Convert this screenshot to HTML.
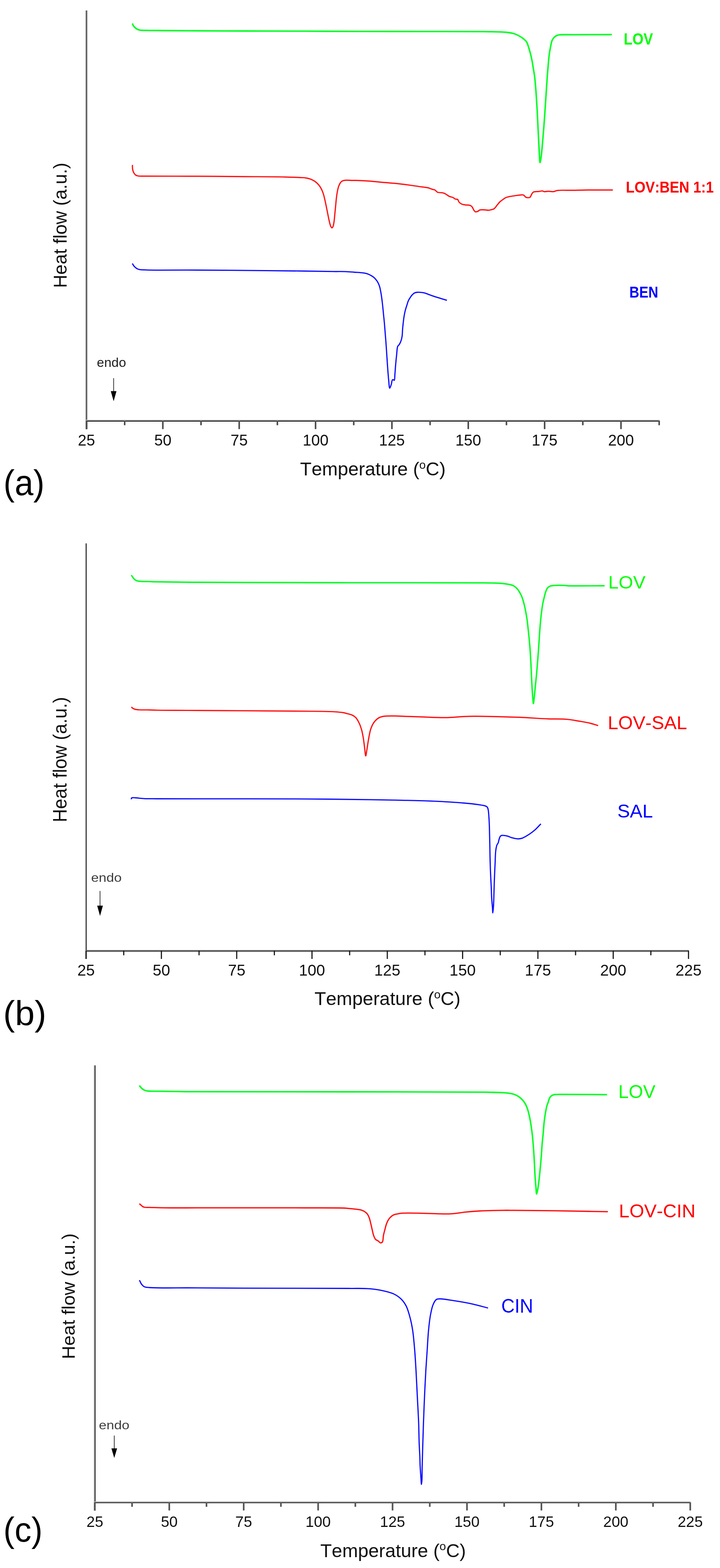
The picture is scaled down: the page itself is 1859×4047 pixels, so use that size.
<!DOCTYPE html>
<html><head><meta charset="utf-8"><title>DSC thermograms</title>
<style>
html,body{margin:0;padding:0;background:#fff;}
body{width:1859px;height:4047px;overflow:hidden;}
svg{display:block;}
text{font-family:"Liberation Sans", Arial, Helvetica, sans-serif;font-kerning:none;font-feature-settings:"kern" 0;}
</style></head>
<body>
<svg width="1859" height="4047" viewBox="0 0 1859 4047" font-family="Liberation Sans, Arial, Helvetica, sans-serif">
<rect width="1859" height="4047" fill="#fff"/>
<rect x="221.5" y="27" width="2.5" height="1081" fill="#3c3c3c"/>
<rect x="224.0" y="27" width="2.6" height="1081" fill="#b8b8b8"/>
<rect x="222.3" y="1083.2" width="1480.625" height="2.5" fill="#c4c4c4"/>
<rect x="222.3" y="1085.7" width="1480.625" height="2.3" fill="#000"/>
<rect x="221.30" y="1086" width="4.0" height="21.5" fill="#4a4a4a"/>
<rect x="319.88" y="1086" width="4.0" height="11.5" fill="#4a4a4a"/>
<rect x="418.45" y="1086" width="4.0" height="21.5" fill="#4a4a4a"/>
<rect x="517.03" y="1086" width="4.0" height="11.5" fill="#4a4a4a"/>
<rect x="615.60" y="1086" width="4.0" height="21.5" fill="#4a4a4a"/>
<rect x="714.18" y="1086" width="4.0" height="11.5" fill="#4a4a4a"/>
<rect x="812.75" y="1086" width="4.0" height="21.5" fill="#4a4a4a"/>
<rect x="911.33" y="1086" width="4.0" height="11.5" fill="#4a4a4a"/>
<rect x="1009.90" y="1086" width="4.0" height="21.5" fill="#4a4a4a"/>
<rect x="1108.48" y="1086" width="4.0" height="11.5" fill="#4a4a4a"/>
<rect x="1207.05" y="1086" width="4.0" height="21.5" fill="#4a4a4a"/>
<rect x="1305.62" y="1086" width="4.0" height="11.5" fill="#4a4a4a"/>
<rect x="1404.20" y="1086" width="4.0" height="21.5" fill="#4a4a4a"/>
<rect x="1502.78" y="1086" width="4.0" height="11.5" fill="#4a4a4a"/>
<rect x="1601.35" y="1086" width="4.0" height="21.5" fill="#4a4a4a"/>
<rect x="1699.92" y="1086" width="4.0" height="11.5" fill="#4a4a4a"/>
<text x="223.3" y="1150" font-size="40" fill="#111" text-anchor="middle" font-weight="normal" >25</text>
<text x="420.5" y="1150" font-size="40" fill="#111" text-anchor="middle" font-weight="normal" >50</text>
<text x="617.6" y="1150" font-size="40" fill="#111" text-anchor="middle" font-weight="normal" >75</text>
<text x="814.8" y="1150" font-size="40" fill="#111" text-anchor="middle" font-weight="normal" >100</text>
<text x="1011.9" y="1150" font-size="40" fill="#111" text-anchor="middle" font-weight="normal" >125</text>
<text x="1209.0" y="1150" font-size="40" fill="#111" text-anchor="middle" font-weight="normal" >150</text>
<text x="1406.2" y="1150" font-size="40" fill="#111" text-anchor="middle" font-weight="normal" >175</text>
<text x="1603.3" y="1150" font-size="40" fill="#111" text-anchor="middle" font-weight="normal" >200</text>
<rect x="221.5" y="1402.5" width="2.4" height="1072.5" fill="#1e1e1e"/>
<rect x="219.1" y="1402.5" width="2.1" height="1072.5" fill="#cccccc"/>
<rect x="221.3" y="2452.1" width="1557.4" height="4.7" fill="#606060"/>
<rect x="220.85" y="2454" width="2.9" height="21" fill="#151515"/>
<rect x="318.06" y="2454" width="2.9" height="11.599999999999909" fill="#151515"/>
<rect x="415.28" y="2454" width="2.9" height="21" fill="#151515"/>
<rect x="512.49" y="2454" width="2.9" height="11.599999999999909" fill="#151515"/>
<rect x="609.70" y="2454" width="2.9" height="21" fill="#151515"/>
<rect x="706.91" y="2454" width="2.9" height="11.599999999999909" fill="#151515"/>
<rect x="804.12" y="2454" width="2.9" height="21" fill="#151515"/>
<rect x="901.34" y="2454" width="2.9" height="11.599999999999909" fill="#151515"/>
<rect x="998.55" y="2454" width="2.9" height="21" fill="#151515"/>
<rect x="1095.76" y="2454" width="2.9" height="11.599999999999909" fill="#151515"/>
<rect x="1192.97" y="2454" width="2.9" height="21" fill="#151515"/>
<rect x="1290.19" y="2454" width="2.9" height="11.599999999999909" fill="#151515"/>
<rect x="1387.40" y="2454" width="2.9" height="21" fill="#151515"/>
<rect x="1484.61" y="2454" width="2.9" height="11.599999999999909" fill="#151515"/>
<rect x="1581.83" y="2454" width="2.9" height="21" fill="#151515"/>
<rect x="1679.04" y="2454" width="2.9" height="11.599999999999909" fill="#151515"/>
<rect x="1776.25" y="2454" width="2.9" height="21" fill="#151515"/>
<text x="222.3" y="2517.6" font-size="40.5" fill="#111" text-anchor="middle" font-weight="normal" >25</text>
<text x="416.7" y="2517.6" font-size="40.5" fill="#111" text-anchor="middle" font-weight="normal" >50</text>
<text x="611.2" y="2517.6" font-size="40.5" fill="#111" text-anchor="middle" font-weight="normal" >75</text>
<text x="805.6" y="2517.6" font-size="40.5" fill="#111" text-anchor="middle" font-weight="normal" >100</text>
<text x="1000.0" y="2517.6" font-size="40.5" fill="#111" text-anchor="middle" font-weight="normal" >125</text>
<text x="1194.4" y="2517.6" font-size="40.5" fill="#111" text-anchor="middle" font-weight="normal" >150</text>
<text x="1388.9" y="2517.6" font-size="40.5" fill="#111" text-anchor="middle" font-weight="normal" >175</text>
<text x="1583.3" y="2517.6" font-size="40.5" fill="#111" text-anchor="middle" font-weight="normal" >200</text>
<text x="1777.7" y="2517.6" font-size="40.5" fill="#111" text-anchor="middle" font-weight="normal" >225</text>
<rect x="244.2" y="2749.7" width="2.7" height="1149.3000000000002" fill="#333333"/>
<rect x="242.0" y="2749.7" width="2.1" height="1149.3000000000002" fill="#b5b5b5"/>
<rect x="243.9" y="3875.1" width="1539.3" height="2.1" fill="#b5b5b5"/>
<rect x="243.9" y="3877.3" width="1539.3" height="2.4" fill="#2a2a2a"/>
<rect x="242.80" y="3878" width="4.2" height="20.5" fill="#555"/>
<rect x="338.88" y="3878" width="4.2" height="11" fill="#555"/>
<rect x="434.96" y="3878" width="4.2" height="20.5" fill="#555"/>
<rect x="531.04" y="3878" width="4.2" height="11" fill="#555"/>
<rect x="627.12" y="3878" width="4.2" height="20.5" fill="#555"/>
<rect x="723.21" y="3878" width="4.2" height="11" fill="#555"/>
<rect x="819.29" y="3878" width="4.2" height="20.5" fill="#555"/>
<rect x="915.37" y="3878" width="4.2" height="11" fill="#555"/>
<rect x="1011.45" y="3878" width="4.2" height="20.5" fill="#555"/>
<rect x="1107.53" y="3878" width="4.2" height="11" fill="#555"/>
<rect x="1203.61" y="3878" width="4.2" height="20.5" fill="#555"/>
<rect x="1299.69" y="3878" width="4.2" height="11" fill="#555"/>
<rect x="1395.78" y="3878" width="4.2" height="20.5" fill="#555"/>
<rect x="1491.86" y="3878" width="4.2" height="11" fill="#555"/>
<rect x="1587.94" y="3878" width="4.2" height="20.5" fill="#555"/>
<rect x="1684.02" y="3878" width="4.2" height="11" fill="#555"/>
<rect x="1780.10" y="3878" width="4.2" height="20.5" fill="#555"/>
<text x="244.9" y="3941.4" font-size="39" fill="#111" text-anchor="middle" font-weight="normal" >25</text>
<text x="437.1" y="3941.4" font-size="39" fill="#111" text-anchor="middle" font-weight="normal" >50</text>
<text x="629.2" y="3941.4" font-size="39" fill="#111" text-anchor="middle" font-weight="normal" >75</text>
<text x="821.4" y="3941.4" font-size="39" fill="#111" text-anchor="middle" font-weight="normal" >100</text>
<text x="1013.5" y="3941.4" font-size="39" fill="#111" text-anchor="middle" font-weight="normal" >125</text>
<text x="1205.7" y="3941.4" font-size="39" fill="#111" text-anchor="middle" font-weight="normal" >150</text>
<text x="1397.9" y="3941.4" font-size="39" fill="#111" text-anchor="middle" font-weight="normal" >175</text>
<text x="1590.0" y="3941.4" font-size="39" fill="#111" text-anchor="middle" font-weight="normal" >200</text>
<text x="1782.2" y="3941.4" font-size="39" fill="#111" text-anchor="middle" font-weight="normal" >225</text>
<path d="M341.80,60.50 C342.60,62.40 343.13,64.46 344.20,66.20 C345.29,67.96 346.75,69.55 348.30,71.00 C349.90,72.49 351.73,73.90 353.70,75.00 C355.75,76.15 357.59,77.10 360.40,77.70 C364.69,78.63 370.74,78.23 377.30,78.40 C386.42,78.63 396.97,78.58 410.00,78.70 C429.36,78.88 453.70,79.21 482.20,79.40 C523.56,79.68 583.59,79.83 634.30,80.00 C685.02,80.17 736.51,80.21 786.50,80.40 C835.04,80.58 880.14,80.93 930.00,81.10 C984.27,81.28 1045.11,81.31 1100.00,81.40 C1151.56,81.48 1214.95,81.22 1250.00,81.60 C1268.92,81.81 1282.53,81.99 1293.70,82.50 C1300.65,82.82 1304.99,82.96 1310.60,83.70 C1316.26,84.45 1322.45,85.43 1327.50,87.00 C1331.87,88.35 1335.54,90.11 1339.30,92.10 C1343.04,94.08 1346.69,96.36 1350.00,98.90 C1353.25,101.40 1356.63,103.78 1359.00,107.20 C1361.59,110.95 1362.85,116.02 1364.50,120.80 C1366.28,125.94 1367.75,131.54 1369.20,137.10 C1370.69,142.84 1372.08,148.60 1373.30,154.70 C1374.60,161.23 1375.57,168.30 1376.70,175.10 C1377.83,181.90 1379.13,188.19 1380.10,195.50 C1381.22,203.90 1382.02,213.64 1382.80,222.70 C1383.58,231.74 1384.15,240.25 1384.80,249.80 C1385.52,260.49 1386.24,271.95 1386.90,283.80 C1387.62,296.78 1388.23,311.01 1388.90,324.60 C1389.57,338.18 1390.24,352.34 1390.90,365.30 C1391.50,377.14 1392.05,389.41 1392.70,399.30 C1393.20,406.97 1393.44,419.65 1394.30,419.70 C1395.01,419.74 1396.25,411.68 1397.10,406.10 C1398.44,397.34 1399.41,383.95 1400.50,372.10 C1401.69,359.15 1402.81,345.50 1403.90,331.40 C1405.08,316.16 1406.25,299.06 1407.30,283.80 C1408.27,269.68 1409.10,256.59 1410.00,243.00 C1410.90,229.42 1411.76,215.25 1412.70,202.30 C1413.56,190.45 1414.44,179.00 1415.40,168.30 C1416.26,158.72 1416.98,149.49 1418.10,141.10 C1419.07,133.82 1420.23,127.12 1421.50,120.80 C1422.63,115.18 1423.69,108.85 1425.20,105.00 C1426.15,102.57 1427.16,101.09 1428.40,99.40 C1429.60,97.77 1430.95,96.29 1432.50,95.00 C1434.10,93.68 1435.98,92.45 1437.90,91.60 C1439.81,90.75 1441.08,90.31 1444.00,89.90 C1450.96,88.92 1465.01,89.69 1480.00,89.60 C1504.95,89.45 1546.47,89.33 1579.70,89.20" fill="none" stroke="#00ff22" stroke-width="3.9" stroke-linejoin="round" stroke-linecap="butt"/>
<path d="M342.00,425.80 C342.07,428.97 341.80,432.28 342.20,435.30 C342.57,438.13 343.28,441.12 344.20,443.40 C344.94,445.24 345.86,446.68 346.90,448.10 C347.90,449.47 348.83,450.82 350.30,451.80 C352.05,452.96 354.33,453.70 357.00,454.20 C360.69,454.90 363.88,454.50 370.60,454.60 C389.85,454.90 442.13,454.63 482.20,454.80 C528.98,455.00 588.72,455.43 634.30,455.80 C671.51,456.11 709.51,456.19 735.70,456.80 C752.28,457.19 766.36,457.75 776.30,458.30 C782.08,458.62 785.81,458.63 790.00,459.30 C793.65,459.88 796.78,460.65 800.10,461.80 C803.55,462.99 807.19,464.56 810.30,466.40 C813.26,468.15 815.90,470.18 818.40,472.50 C820.98,474.89 823.37,477.56 825.50,480.60 C827.81,483.90 829.90,487.92 831.60,491.70 C833.25,495.36 834.43,499.06 835.60,502.90 C836.80,506.85 837.72,510.87 838.70,515.10 C839.76,519.64 840.70,524.48 841.70,529.30 C842.73,534.28 843.78,539.43 844.80,544.50 C845.82,549.57 846.77,554.72 847.80,559.70 C848.80,564.52 849.79,569.59 850.90,573.90 C851.84,577.57 852.62,581.46 853.90,584.00 C854.80,585.77 855.98,588.11 857.00,588.10 C858.01,588.09 859.18,585.84 860.00,584.00 C861.28,581.13 861.79,576.47 862.50,571.90 C863.41,566.02 863.92,558.37 864.60,551.60 C865.28,544.83 865.93,538.07 866.60,531.30 C867.27,524.53 867.79,517.48 868.60,511.00 C869.35,505.02 870.17,499.02 871.20,493.80 C872.08,489.36 872.92,485.32 874.20,481.60 C875.34,478.29 876.61,474.98 878.30,472.50 C879.73,470.40 881.30,468.58 883.30,467.40 C885.33,466.20 887.41,465.80 890.40,465.40 C895.28,464.75 904.56,465.57 910.00,465.60 C913.89,465.62 915.68,465.49 920.00,465.60 C927.94,465.80 942.54,466.45 953.80,467.30 C965.08,468.15 976.33,469.68 987.60,470.70 C998.86,471.72 1010.14,472.27 1021.40,473.40 C1032.68,474.53 1044.56,476.07 1055.20,477.50 C1064.74,478.78 1073.57,480.23 1082.30,481.50 C1090.46,482.69 1099.82,483.34 1106.00,484.90 C1110.14,485.94 1113.04,487.66 1116.10,488.60 C1118.57,489.36 1120.77,489.19 1122.90,490.30 C1125.30,491.55 1126.74,494.83 1129.60,496.10 C1133.16,497.69 1139.49,496.87 1143.20,497.80 C1145.90,498.48 1147.58,499.18 1150.00,500.40 C1153.11,501.96 1156.62,505.17 1160.10,506.80 C1163.40,508.35 1167.56,508.75 1170.30,510.10 C1172.38,511.12 1173.52,512.80 1175.40,513.60 C1177.32,514.42 1180.06,513.67 1181.70,514.90 C1183.54,516.27 1183.70,520.01 1185.50,522.00 C1187.42,524.12 1190.46,525.96 1193.10,527.10 C1195.54,528.15 1198.00,528.42 1200.70,528.80 C1203.70,529.23 1207.62,528.93 1210.30,529.40 C1212.29,529.75 1213.89,530.05 1215.40,530.90 C1216.92,531.75 1218.19,532.92 1219.40,534.50 C1220.97,536.56 1221.96,540.45 1223.50,542.60 C1224.72,544.31 1225.86,546.18 1227.50,546.70 C1229.20,547.25 1231.73,546.37 1233.60,545.60 C1235.47,544.83 1236.50,542.83 1238.70,542.10 C1241.79,541.07 1247.03,541.49 1250.90,541.60 C1254.43,541.70 1257.83,542.73 1261.00,542.60 C1263.86,542.48 1266.61,541.74 1269.10,541.10 C1271.30,540.54 1273.47,540.16 1275.20,539.10 C1276.84,538.09 1277.92,536.58 1279.30,535.00 C1280.95,533.11 1282.44,530.68 1284.30,528.40 C1286.42,525.80 1288.81,522.69 1291.40,520.30 C1293.92,517.97 1297.18,515.95 1299.60,514.20 C1301.49,512.83 1302.61,511.62 1304.70,510.60 C1307.41,509.27 1311.21,508.33 1314.80,507.50 C1318.76,506.59 1322.64,506.15 1327.50,505.50 C1334.01,504.63 1346.08,501.96 1350.40,503.00 C1352.32,503.46 1352.98,504.51 1354.20,505.50 C1355.52,506.58 1356.23,508.57 1358.00,509.30 C1360.42,510.30 1365.57,510.77 1368.10,509.30 C1370.65,507.82 1371.52,502.81 1373.20,500.40 C1374.48,498.58 1375.05,496.96 1377.00,495.90 C1380.01,494.26 1386.62,494.65 1390.90,494.10 C1394.56,493.63 1398.57,492.40 1401.10,492.80 C1402.72,493.06 1403.24,494.30 1404.90,494.60 C1407.64,495.09 1412.40,493.62 1416.30,493.60 C1420.42,493.58 1425.08,495.03 1429.00,494.60 C1432.52,494.21 1434.39,492.28 1438.80,491.60 C1447.39,490.27 1464.67,491.40 1477.60,491.20 C1490.53,491.00 1501.76,490.55 1516.40,490.40 C1535.49,490.20 1560.40,490.40 1582.40,490.40" fill="none" stroke="#ff1010" stroke-width="3.2" stroke-linejoin="round" stroke-linecap="butt"/>
<path d="M341.80,680.10 C342.37,681.13 342.79,682.08 343.50,683.20 C344.40,684.63 345.69,686.55 346.90,687.90 C347.97,689.10 349.13,690.08 350.30,691.00 C351.40,691.87 352.32,692.60 353.70,693.30 C355.51,694.22 357.61,695.13 360.40,695.70 C364.71,696.58 370.74,696.46 377.30,696.70 C386.41,697.04 396.97,697.12 410.00,697.20 C429.36,697.32 453.70,696.95 482.20,697.00 C523.56,697.08 583.59,697.57 634.30,698.00 C685.03,698.43 744.90,699.04 786.50,699.60 C815.41,699.99 840.34,700.58 860.00,700.80 C873.17,700.95 883.13,700.61 893.00,701.00 C901.05,701.32 907.59,702.05 914.90,702.60 C922.23,703.15 930.85,703.46 936.90,704.30 C941.22,704.90 944.49,705.44 947.90,706.50 C951.05,707.48 953.92,708.81 956.70,710.30 C959.42,711.76 962.13,713.46 964.40,715.30 C966.49,716.99 968.15,718.73 969.90,720.80 C971.83,723.08 973.79,725.64 975.40,728.50 C977.17,731.64 978.70,735.37 979.90,739.00 C981.12,742.70 981.77,746.35 982.60,750.50 C983.56,755.31 984.39,760.58 985.20,766.20 C986.14,772.66 986.98,779.73 987.80,787.10 C988.72,795.34 989.58,805.06 990.40,813.30 C991.13,820.66 991.84,826.84 992.50,834.20 C993.24,842.44 993.90,851.67 994.60,860.40 C995.30,869.13 996.03,877.47 996.70,886.60 C997.43,896.59 998.10,907.53 998.80,918.00 C999.50,928.47 1000.12,938.94 1000.90,949.40 C1001.68,959.87 1002.49,971.37 1003.50,980.80 C1004.33,988.57 1004.81,1001.81 1006.30,1002.00 C1007.35,1002.13 1009.17,995.49 1010.30,992.00 C1011.49,988.34 1011.71,981.94 1013.20,980.50 C1013.86,979.86 1014.75,979.85 1015.50,980.00 C1016.35,980.17 1017.35,982.00 1018.00,981.70 C1019.47,981.02 1019.07,972.10 1019.60,966.30 C1020.28,958.81 1020.83,949.09 1021.60,940.50 C1022.37,931.92 1023.28,922.89 1024.20,914.80 C1025.02,907.55 1024.93,898.61 1026.80,894.20 C1027.85,891.73 1029.63,891.09 1030.90,889.10 C1032.41,886.74 1033.86,883.91 1035.00,880.80 C1036.34,877.16 1037.35,873.16 1038.10,868.50 C1039.06,862.55 1039.04,854.26 1039.60,847.90 C1040.09,842.39 1040.60,837.64 1041.20,832.50 C1041.80,827.34 1042.35,822.14 1043.20,817.00 C1044.05,811.84 1045.05,806.53 1046.30,801.60 C1047.48,796.95 1049.01,792.56 1050.40,788.20 C1051.74,784.00 1052.92,779.39 1054.50,775.90 C1055.76,773.11 1057.20,771.03 1058.70,768.70 C1060.20,766.37 1061.66,763.96 1063.50,761.90 C1065.35,759.83 1067.43,757.55 1069.80,756.30 C1072.08,755.09 1074.52,754.68 1077.40,754.40 C1081.05,754.04 1086.65,754.59 1090.00,755.00 C1092.25,755.27 1093.09,755.42 1095.60,756.10 C1101.03,757.58 1111.87,762.03 1120.90,765.00 C1131.14,768.37 1142.90,771.73 1153.90,775.10" fill="none" stroke="#0c0cff" stroke-width="3.1" stroke-linejoin="round" stroke-linecap="butt"/>
<path d="M338.90,1484.50 C339.90,1485.83 340.88,1487.10 341.90,1488.50 C343.01,1490.02 344.10,1491.90 345.30,1493.30 C346.38,1494.56 347.40,1495.67 348.70,1496.60 C350.08,1497.59 351.53,1498.39 353.40,1499.00 C355.83,1499.79 358.54,1500.06 362.20,1500.40 C368.17,1500.95 378.43,1500.77 385.90,1501.00 C392.61,1501.21 396.21,1501.48 405.00,1501.70 C424.60,1502.18 465.62,1502.62 500.00,1502.90 C540.83,1503.23 581.75,1503.24 634.00,1503.40 C707.62,1503.62 805.17,1503.84 900.00,1504.00 C1008.99,1504.18 1195.95,1503.71 1251.40,1504.40 C1268.60,1504.61 1275.86,1504.71 1285.20,1505.20 C1291.84,1505.55 1296.56,1505.90 1302.20,1506.60 C1307.86,1507.30 1314.50,1508.10 1319.10,1509.40 C1322.45,1510.34 1324.83,1511.14 1327.50,1512.80 C1330.50,1514.67 1333.50,1517.50 1336.00,1520.40 C1338.59,1523.40 1340.75,1527.16 1342.70,1530.60 C1344.55,1533.87 1345.95,1536.52 1347.50,1540.50 C1349.67,1546.09 1351.98,1554.54 1353.70,1561.30 C1355.30,1567.61 1356.41,1573.52 1357.60,1579.80 C1358.82,1586.28 1359.89,1592.36 1360.90,1599.60 C1362.12,1608.33 1363.13,1618.62 1364.20,1628.60 C1365.34,1639.24 1366.53,1650.09 1367.50,1661.60 C1368.56,1674.19 1369.43,1688.00 1370.20,1701.20 C1370.97,1714.40 1371.45,1727.60 1372.10,1740.80 C1372.75,1754.00 1373.35,1768.54 1374.10,1780.40 C1374.71,1790.09 1375.46,1800.25 1376.10,1806.80 C1376.48,1810.70 1376.75,1816.10 1377.20,1816.10 C1377.79,1816.11 1378.69,1806.18 1379.40,1800.20 C1380.31,1792.52 1381.08,1783.09 1382.00,1773.80 C1383.03,1763.41 1384.25,1752.31 1385.30,1740.80 C1386.45,1728.21 1387.54,1714.91 1388.60,1701.20 C1389.75,1686.40 1390.87,1669.81 1391.90,1655.00 C1392.86,1641.29 1393.54,1627.99 1394.60,1615.40 C1395.57,1603.89 1396.62,1592.77 1397.90,1582.40 C1399.05,1573.10 1400.48,1562.88 1401.80,1556.00 C1402.66,1551.52 1403.41,1549.01 1404.40,1545.00 C1405.61,1540.12 1406.89,1533.65 1408.60,1528.80 C1410.07,1524.63 1411.42,1520.25 1413.70,1517.50 C1415.55,1515.26 1417.70,1513.88 1420.40,1512.80 C1423.68,1511.49 1427.58,1511.36 1432.30,1511.00 C1439.15,1510.49 1451.42,1510.71 1457.60,1511.00 C1461.19,1511.17 1461.73,1511.59 1466.10,1511.80 C1480.67,1512.49 1529.37,1511.87 1561.00,1511.90" fill="none" stroke="#00ff22" stroke-width="3.7" stroke-linejoin="round" stroke-linecap="butt"/>
<path d="M339.20,1824.80 C340.33,1825.83 341.21,1827.00 342.60,1827.90 C344.27,1828.99 346.36,1829.93 348.70,1830.60 C351.60,1831.42 354.61,1831.69 358.80,1832.00 C365.64,1832.51 377.66,1832.10 385.90,1832.30 C392.82,1832.47 396.49,1832.82 405.00,1833.00 C422.09,1833.37 452.15,1833.30 482.20,1833.50 C524.39,1833.78 583.59,1834.17 634.30,1834.50 C685.02,1834.83 744.49,1834.95 786.50,1835.50 C816.19,1835.89 843.96,1835.87 862.50,1837.00 C873.25,1837.65 881.02,1838.35 887.90,1839.60 C892.71,1840.48 896.27,1841.75 900.00,1842.80 C903.23,1843.71 906.06,1844.09 909.00,1845.50 C912.27,1847.07 915.77,1849.14 918.60,1852.10 C921.91,1855.56 924.56,1860.60 927.00,1865.60 C929.72,1871.18 931.98,1877.80 933.80,1884.20 C935.66,1890.75 936.78,1897.33 938.00,1904.50 C939.36,1912.47 940.30,1921.83 941.40,1929.90 C942.40,1937.26 943.24,1950.97 944.30,1951.00 C945.23,1951.02 946.25,1941.04 947.30,1935.00 C948.66,1927.16 949.90,1916.90 951.60,1907.90 C953.30,1898.87 954.75,1888.70 957.50,1880.90 C959.77,1874.45 962.33,1868.76 965.90,1864.00 C969.21,1859.59 973.40,1855.56 977.80,1853.00 C981.92,1850.60 985.95,1849.61 991.30,1848.70 C998.68,1847.44 1008.79,1847.87 1018.30,1847.90 C1028.96,1847.93 1040.59,1848.69 1052.20,1849.10 C1064.46,1849.53 1075.90,1849.96 1090.00,1850.40 C1107.89,1850.96 1130.61,1852.37 1150.90,1852.10 C1171.18,1851.83 1187.94,1849.21 1211.70,1848.80 C1245.29,1848.22 1296.93,1849.92 1333.40,1851.20 C1363.20,1852.25 1390.97,1854.41 1414.60,1855.30 C1432.89,1855.99 1448.75,1855.23 1463.30,1856.50 C1475.23,1857.55 1485.68,1859.74 1495.70,1861.40 C1504.42,1862.85 1512.02,1863.93 1520.10,1865.80 C1528.26,1867.69 1536.30,1870.40 1544.40,1872.70" fill="none" stroke="#ff1010" stroke-width="3.2" stroke-linejoin="round" stroke-linecap="butt"/>
<path d="M339.20,2063.00 C339.27,2061.93 338.88,2060.48 339.40,2059.80 C339.88,2059.17 340.88,2059.07 342.00,2058.90 C343.92,2058.60 346.67,2058.90 350.00,2059.10 C355.57,2059.43 364.15,2060.77 372.30,2061.20 C382.15,2061.72 389.18,2061.50 405.00,2061.60 C446.90,2061.87 564.06,2061.68 634.30,2061.80 C694.01,2061.90 745.35,2061.82 800.00,2062.20 C853.52,2062.57 915.01,2063.34 958.90,2064.00 C989.94,2064.47 1011.91,2064.87 1038.40,2065.50 C1064.88,2066.13 1091.33,2066.62 1117.80,2067.80 C1144.30,2068.98 1175.37,2070.72 1197.30,2072.60 C1212.83,2073.93 1226.95,2075.51 1237.00,2077.00 C1243.21,2077.92 1248.20,2078.49 1252.00,2079.80 C1254.53,2080.67 1256.59,2081.27 1258.00,2082.90 C1259.50,2084.63 1259.84,2087.11 1260.50,2090.10 C1261.51,2094.70 1261.82,2101.66 1262.30,2108.10 C1262.86,2115.54 1263.20,2124.17 1263.50,2132.20 C1263.80,2140.21 1263.90,2148.19 1264.10,2156.20 C1264.30,2164.22 1264.52,2171.46 1264.70,2180.30 C1264.92,2191.12 1265.00,2204.37 1265.30,2216.40 C1265.60,2228.43 1266.00,2240.47 1266.50,2252.50 C1267.00,2264.54 1267.78,2277.12 1268.30,2288.60 C1268.77,2299.06 1268.92,2309.15 1269.50,2318.60 C1270.02,2327.08 1270.96,2335.82 1271.50,2342.70 C1271.90,2347.85 1272.09,2356.20 1272.50,2356.20 C1272.99,2356.20 1273.83,2344.20 1274.30,2336.70 C1274.94,2326.51 1275.10,2312.63 1275.50,2300.60 C1275.90,2288.57 1276.23,2276.53 1276.70,2264.50 C1277.17,2252.47 1277.78,2239.89 1278.30,2228.40 C1278.78,2217.91 1278.94,2206.05 1279.70,2198.30 C1280.18,2193.38 1280.76,2189.59 1281.50,2186.30 C1282.03,2183.93 1282.47,2182.14 1283.30,2180.30 C1284.09,2178.55 1285.47,2177.45 1286.30,2175.50 C1287.40,2172.92 1287.73,2168.85 1288.70,2165.90 C1289.57,2163.27 1290.34,2160.26 1291.70,2158.60 C1292.70,2157.37 1293.72,2156.63 1295.30,2156.20 C1297.67,2155.56 1302.03,2156.34 1305.00,2156.80 C1307.60,2157.20 1309.69,2157.80 1312.20,2158.60 C1315.06,2159.51 1317.72,2161.11 1321.20,2162.10 C1325.72,2163.39 1332.31,2165.05 1337.20,2165.10 C1341.32,2165.14 1344.49,2164.64 1348.60,2163.20 C1354.12,2161.26 1361.27,2156.60 1366.80,2153.00 C1371.81,2149.73 1375.91,2146.73 1380.50,2142.70 C1385.80,2138.04 1391.17,2131.77 1396.50,2126.30" fill="none" stroke="#0c0cff" stroke-width="3.1" stroke-linejoin="round" stroke-linecap="butt"/>
<path d="M359.90,2801.50 C360.57,2802.50 361.10,2803.47 361.90,2804.50 C362.85,2805.72 364.07,2807.12 365.30,2808.30 C366.54,2809.49 367.86,2810.61 369.30,2811.60 C370.79,2812.62 372.23,2813.60 374.10,2814.30 C376.39,2815.16 378.77,2815.61 382.20,2816.00 C388.01,2816.65 397.40,2816.28 405.90,2816.40 C415.81,2816.55 425.63,2816.63 438.10,2816.80 C455.39,2817.03 470.38,2817.47 500.00,2817.70 C575.28,2818.28 770.98,2817.79 900.00,2818.00 C1020.93,2818.20 1191.06,2818.04 1251.40,2818.90 C1272.34,2819.20 1282.78,2819.50 1293.70,2820.00 C1300.61,2820.31 1304.99,2820.36 1310.60,2821.10 C1316.26,2821.85 1322.47,2822.77 1327.50,2824.50 C1331.90,2826.01 1335.60,2827.88 1339.30,2830.40 C1343.20,2833.05 1347.16,2836.69 1350.20,2840.20 C1353.00,2843.43 1355.13,2846.80 1357.10,2850.50 C1359.15,2854.35 1360.73,2858.55 1362.20,2862.90 C1363.76,2867.52 1364.92,2872.44 1366.10,2877.50 C1367.37,2882.91 1368.41,2888.18 1369.50,2894.40 C1370.83,2901.99 1372.20,2911.11 1373.30,2919.80 C1374.45,2928.89 1375.34,2938.11 1376.20,2947.80 C1377.13,2958.25 1377.93,2969.95 1378.60,2980.40 C1379.22,2990.06 1379.62,2999.00 1380.10,3008.30 C1380.58,3017.60 1380.88,3026.90 1381.50,3036.20 C1382.12,3045.53 1383.08,3055.99 1383.80,3064.20 C1384.36,3070.66 1384.49,3081.43 1385.40,3081.50 C1386.19,3081.56 1387.62,3073.89 1388.60,3068.80 C1390.03,3061.34 1391.22,3050.22 1392.30,3040.90 C1393.38,3031.58 1394.20,3022.58 1395.10,3012.90 C1396.07,3002.47 1397.10,2990.83 1397.90,2980.40 C1398.65,2970.72 1399.02,2961.72 1399.80,2952.40 C1400.58,2943.09 1401.75,2933.80 1402.60,2924.50 C1403.45,2915.20 1403.91,2905.47 1404.90,2896.60 C1405.81,2888.47 1406.96,2880.61 1408.20,2873.30 C1409.32,2866.73 1410.54,2859.57 1411.90,2854.70 C1412.81,2851.44 1413.90,2849.38 1414.80,2846.70 C1415.70,2844.04 1416.47,2841.11 1417.30,2838.70 C1418.00,2836.68 1418.45,2834.84 1419.40,2833.20 C1420.31,2831.63 1421.50,2830.15 1422.80,2829.00 C1424.05,2827.90 1425.48,2827.05 1427.00,2826.40 C1428.57,2825.73 1429.86,2825.41 1432.10,2825.10 C1436.23,2824.52 1441.42,2824.69 1450.00,2824.60 C1471.98,2824.36 1528.27,2825.07 1567.40,2825.30" fill="none" stroke="#00ff22" stroke-width="3.8" stroke-linejoin="round" stroke-linecap="butt"/>
<path d="M359.90,3106.80 C360.80,3107.60 361.70,3108.40 362.60,3109.20 C363.50,3110.00 364.34,3110.79 365.30,3111.60 C366.36,3112.49 367.41,3113.58 368.70,3114.30 C370.09,3115.07 371.43,3115.63 373.40,3116.00 C376.48,3116.58 380.37,3116.17 385.60,3116.30 C394.99,3116.53 410.64,3117.09 425.00,3117.30 C442.29,3117.55 458.56,3117.47 482.20,3117.50 C520.75,3117.54 583.59,3117.30 634.30,3117.30 C685.02,3117.30 740.90,3117.36 786.50,3117.50 C823.72,3117.62 870.55,3117.24 887.90,3118.00 C893.90,3118.26 895.52,3118.59 900.00,3119.00 C905.62,3119.51 913.31,3120.19 919.00,3120.90 C923.67,3121.48 927.90,3121.72 931.70,3122.80 C935.00,3123.73 937.87,3124.92 940.60,3126.60 C943.37,3128.31 946.12,3130.37 948.20,3133.00 C950.42,3135.80 951.87,3139.38 953.30,3143.10 C954.92,3147.31 955.88,3152.24 957.10,3157.10 C958.42,3162.34 959.61,3168.13 960.90,3173.50 C962.15,3178.69 963.05,3184.31 964.70,3188.80 C966.09,3192.60 967.50,3196.53 969.70,3198.90 C971.48,3200.83 974.03,3201.26 976.10,3202.70 C978.26,3204.21 980.34,3207.58 982.40,3207.80 C984.13,3207.98 986.25,3206.93 987.50,3205.20 C989.63,3202.25 988.93,3194.15 990.00,3188.80 C991.04,3183.59 992.50,3178.47 993.80,3173.50 C995.04,3168.75 996.18,3163.68 997.60,3159.60 C998.76,3156.26 999.78,3153.58 1001.40,3150.70 C1003.13,3147.63 1005.26,3144.34 1007.80,3141.80 C1010.33,3139.28 1013.41,3136.97 1016.60,3135.50 C1019.75,3134.05 1023.20,3133.70 1026.80,3133.00 C1030.78,3132.23 1033.92,3131.59 1039.50,3131.20 C1050.12,3130.46 1070.17,3131.03 1086.00,3131.30 C1102.54,3131.58 1122.44,3132.68 1136.70,3132.90 C1147.10,3133.06 1153.80,3133.47 1163.70,3132.90 C1175.88,3132.20 1191.38,3129.46 1204.30,3128.20 C1216.07,3127.05 1225.13,3126.20 1238.10,3125.50 C1255.63,3124.56 1283.75,3123.99 1300.00,3123.80 C1310.55,3123.68 1314.56,3123.82 1326.10,3123.90 C1348.85,3124.06 1390.86,3124.40 1427.50,3124.90 C1470.86,3125.50 1522.17,3126.57 1569.50,3127.40" fill="none" stroke="#ff1010" stroke-width="3.3" stroke-linejoin="round" stroke-linecap="butt"/>
<path d="M359.90,3304.10 C360.67,3305.57 361.43,3307.00 362.20,3308.50 C363.00,3310.06 363.69,3311.89 364.60,3313.30 C365.41,3314.55 366.32,3315.52 367.30,3316.60 C368.34,3317.75 369.38,3319.11 370.70,3320.00 C372.06,3320.92 373.49,3321.50 375.40,3322.00 C378.11,3322.71 381.08,3322.80 385.60,3323.10 C394.45,3323.69 410.64,3323.94 425.00,3324.10 C442.29,3324.29 458.69,3323.88 482.20,3323.90 C519.99,3323.94 573.37,3324.47 630.00,3324.70 C706.54,3325.01 845.58,3325.01 900.00,3325.40 C923.58,3325.57 935.54,3324.93 950.70,3326.00 C963.13,3326.88 973.60,3328.18 984.50,3330.40 C995.01,3332.54 1006.14,3334.84 1015.00,3338.90 C1022.77,3342.46 1029.62,3346.94 1035.30,3352.40 C1040.82,3357.70 1045.06,3363.71 1048.80,3371.00 C1053.22,3379.61 1056.11,3390.91 1058.90,3401.40 C1061.79,3412.28 1063.83,3422.74 1065.70,3435.20 C1067.98,3450.36 1069.40,3469.06 1070.80,3486.00 C1072.20,3502.90 1073.05,3518.58 1074.10,3536.70 C1075.31,3557.61 1076.37,3581.77 1077.50,3604.30 C1078.63,3626.83 1080.09,3650.68 1080.90,3671.90 C1081.62,3690.77 1081.70,3709.61 1082.30,3725.40 C1082.78,3737.96 1083.57,3748.75 1084.00,3759.20 C1084.37,3768.24 1084.38,3776.06 1084.80,3784.50 C1085.22,3792.96 1085.91,3801.78 1086.50,3809.90 C1087.05,3817.39 1087.64,3831.49 1088.20,3831.50 C1088.64,3831.50 1089.21,3823.42 1089.50,3818.30 C1089.90,3811.23 1089.72,3802.04 1089.90,3793.00 C1090.11,3782.55 1090.40,3770.47 1090.70,3759.20 C1091.00,3747.93 1091.31,3737.95 1091.70,3725.40 C1092.18,3709.60 1092.72,3690.77 1093.40,3671.90 C1094.16,3650.68 1095.08,3626.83 1096.10,3604.30 C1097.12,3581.76 1098.27,3557.61 1099.50,3536.70 C1100.56,3518.58 1101.77,3502.91 1102.90,3486.00 C1104.03,3469.08 1104.78,3451.16 1106.30,3435.20 C1107.66,3420.92 1109.05,3406.79 1111.30,3394.70 C1113.16,3384.70 1115.01,3374.88 1118.10,3367.60 C1120.43,3362.10 1122.92,3356.50 1126.50,3354.10 C1129.39,3352.17 1132.30,3352.48 1136.70,3352.40 C1144.68,3352.26 1158.12,3354.88 1170.50,3356.80 C1185.72,3359.15 1205.48,3362.43 1221.20,3365.90 C1235.09,3368.96 1247.13,3372.70 1260.10,3376.10" fill="none" stroke="#0c0cff" stroke-width="3.1" stroke-linejoin="round" stroke-linecap="butt"/>
<text x="1610.56" y="114.96" font-size="42.31" fill="#00ff00" font-weight="bold" textLength="75.3" lengthAdjust="spacingAndGlyphs">LOV</text>
<text x="1616.01" y="497.41" font-size="40.29" fill="#ff0000" font-weight="bold" textLength="226.7" lengthAdjust="spacingAndGlyphs">LOV:BEN 1:1</text>
<text x="1625.06" y="768.36" font-size="40.42" fill="#0000ff" font-weight="bold" textLength="74.5" lengthAdjust="spacingAndGlyphs">BEN</text>
<text x="1570.56" y="1519.49" font-size="45.78" fill="#00ff00" textLength="96.2" lengthAdjust="spacingAndGlyphs">LOV</text>
<text x="1569.28" y="1881.95" font-size="48.75" fill="#ff0000" textLength="204.8" lengthAdjust="spacingAndGlyphs">LOV-SAL</text>
<text x="1593.95" y="2110.24" font-size="48.55" fill="#0000ff" textLength="91.9" lengthAdjust="spacingAndGlyphs">SAL</text>
<text x="1596.60" y="2834.03" font-size="47.26" fill="#00ff00" textLength="95.7" lengthAdjust="spacingAndGlyphs">LOV</text>
<text x="1598.05" y="3142.46" font-size="48.70" fill="#ff0000" textLength="197.6" lengthAdjust="spacingAndGlyphs">LOV-CIN</text>
<text x="1294.27" y="3388.05" font-size="49.21" fill="#0000ff" textLength="82.4" lengthAdjust="spacingAndGlyphs">CIN</text>
<text x="774.72" y="1227.45" font-size="48.77" fill="#111" textLength="375.9" lengthAdjust="spacingAndGlyphs">Temperature (<tspan font-size="30.2" dy="-17.6">o</tspan><tspan dy="17.6">C)</tspan></text>
<text x="811.95" y="2594.43" font-size="47.51" fill="#111" textLength="377.1" lengthAdjust="spacingAndGlyphs">Temperature (<tspan font-size="29.5" dy="-17.1">o</tspan><tspan dy="17.1">C)</tspan></text>
<text x="826.94" y="4018.59" font-size="47.51" fill="#111" textLength="376.0" lengthAdjust="spacingAndGlyphs">Temperature (<tspan font-size="29.5" dy="-17.1">o</tspan><tspan dy="17.1">C)</tspan></text>
<text x="9.09" y="1278.49" font-size="91.84" fill="#000" textLength="105.9" lengthAdjust="spacingAndGlyphs">(a)</text>
<text x="8.32" y="2646.07" font-size="89.87" fill="#000" textLength="111.3" lengthAdjust="spacingAndGlyphs">(b)</text>
<text x="8.82" y="3979.24" font-size="89.78" fill="#000" textLength="101.0" lengthAdjust="spacingAndGlyphs">(c)</text>
<text x="0" y="0" font-size="47.54" fill="#111" textLength="323.5" lengthAdjust="spacingAndGlyphs" transform="translate(172.20,743.35) rotate(-90)">Heat flow (a.u.)</text>
<text x="0" y="0" font-size="49.61" fill="#111" textLength="323.4" lengthAdjust="spacingAndGlyphs" transform="translate(171.67,2122.35) rotate(-90)">Heat flow (a.u.)</text>
<text x="0" y="0" font-size="46.87" fill="#111" textLength="324.5" lengthAdjust="spacingAndGlyphs" transform="translate(192.72,3507.89) rotate(-90)">Heat flow (a.u.)</text>
<text x="250.13" y="947.20" font-size="33.69" fill="#1e1e1e" textLength="75.4" lengthAdjust="spacingAndGlyphs">endo</text>
<text x="235.27" y="2276.20" font-size="30.61" fill="#3c3c3c" textLength="78.9" lengthAdjust="spacingAndGlyphs">endo</text>
<text x="255.27" y="3689.41" font-size="30.65" fill="#3c3c3c" textLength="78.9" lengthAdjust="spacingAndGlyphs">endo</text>
<line x1="293.4" y1="976" x2="293.4" y2="1011.6" stroke="#222" stroke-width="1.8"/>
<path d="M286.04999999999995,1009.6 L300.75,1009.6 L293.4,1035.4 Z" fill="#000"/>
<line x1="258.3" y1="2299.5" x2="258.3" y2="2339.5" stroke="#222" stroke-width="1.8"/>
<path d="M250.95000000000002,2337.5 L265.65000000000003,2337.5 L258.3,2363.9 Z" fill="#000"/>
<line x1="295.0" y1="3705.2" x2="295.0" y2="3740.2" stroke="#222" stroke-width="1.8"/>
<path d="M287.65,3738.2 L302.35,3738.2 L295.0,3763 Z" fill="#000"/>
</svg>
</body></html>
